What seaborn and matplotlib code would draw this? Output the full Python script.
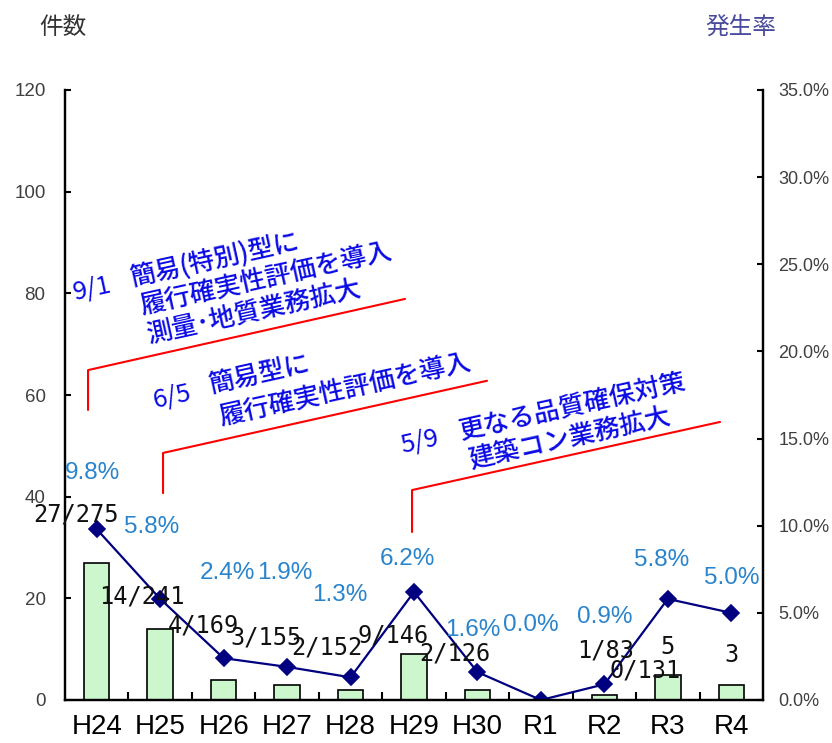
import matplotlib
matplotlib.use('Agg')
import matplotlib.pyplot as plt
import seaborn as sns
import pandas as pd
from matplotlib.ticker import FixedLocator, FuncFormatter

# ---- data ----
years = ['H24', 'H25', 'H26', 'H27', 'H28', 'H29', 'H30', 'R1', 'R2', 'R3', 'R4']
counts = [27, 14, 4, 3, 2, 9, 2, 0, 1, 5, 3]
rates = [9.8, 5.8, 2.4, 1.9, 1.3, 6.2, 1.6, 0.0, 0.9, 5.8, 5.0]
count_labels = ['27/275', '14/241', '4/169', '3/155', '2/152', '9/146',
                '2/126', '0/131', '1/83', '5', '3']
rate_labels = ['9.8%', '5.8%', '2.4%', '1.9%', '1.3%', '6.2%',
               '1.6%', '0.0%', '0.9%', '5.8%', '5.0%']
left_ticks = [0, 20, 40, 60, 80, 100, 120]
right_ticks = [0, 5, 10, 15, 20, 25, 30, 35]
event_dates = ['9/1', '6/5', '5/9']
event_texts = [['簡易(特別)型に', '履行確実性評価を導入', '測量･地質業務拡大'],
               ['簡易型に', '履行確実性評価を導入'],
               ['更なる品質確保対策', '建築コン業務拡大']]
left_title = '件数'
right_title = '発生率'

# ---- label placement (pixel offsets from the markers) ----
count_off = [(-21, 15), (-18, 2), (-20, 33), (-21, 29), (-24, 30), (-21, -44),
             (-23, 19), (104, 30), (1, 34), (0, -48), (0, -42)]
rate_off = [(-4, 56), (-9, 72), (4, 85), (-2, 94), (-11, 82), (-7, 33),
            (-5, 42), (-10, 75), (0, 67), (-6, 39), (0, 35)]

# annotation geometry (left-axis data coordinates)
bracket_x = [[-0.137, -0.137, 4.859], [1.045, 1.045, 6.151], [4.969, 4.969, 9.823]]
bracket_y = [[57.05, 64.9, 78.9], [40.7, 48.6, 62.8], [33.05, 41.3, 54.7]]
date_pos = [(-0.342, 78.7), (0.918, 57.45), (4.811, 48.6)]
text_pos = [[(0.556, 80.66), (0.714, 75.35), (0.824, 69.45)],
            [(1.801, 59.6), (1.959, 53.7)],
            [(5.741, 50.56), (5.899, 45.25)]]

sns.set_theme(style='white')
plt.rcParams['font.family'] = ['Liberation Sans', 'Noto Sans CJK JP', 'DejaVu Sans']
CJK = ['Noto Sans CJK JP', 'DejaVu Sans']

df = pd.DataFrame({'year': years, 'count': counts, 'rate': rates})

fig = plt.figure(figsize=(8.32, 7.43), dpi=100)
ax = fig.add_axes([65 / 832, 1 - 700 / 743, (763 - 65) / 832, (700 - 90) / 743])
ax2 = ax.twinx()

sns.barplot(data=df, x='year', y='count', order=years, ax=ax, color='#ccf7cc',
            width=0.4, edgecolor='black', linewidth=1.2, saturation=1)
sns.pointplot(data=df, x='year', y='rate', order=years, ax=ax2, color='#000080',
              marker='D', markersize=8, linewidth=1.6, errorbar=None)

for a in (ax, ax2):
    a.set_xlim(-0.5, len(years) - 0.5)
    a.set_xlabel('')
    a.set_ylabel('')
    a.grid(False)

ax.set_ylim(0, 120)
ax2.set_ylim(0, 35)
ax.yaxis.set_major_locator(FixedLocator(left_ticks))
ax2.yaxis.set_major_locator(FixedLocator(right_ticks))
ax2.yaxis.set_major_formatter(FuncFormatter(lambda v, p: f'{v:.1f}%'))

for a in (ax, ax2):
    for s in a.spines.values():
        s.set_color('black')
        s.set_linewidth(1.6)
    a.spines['top'].set_visible(False)

ax.tick_params(axis='y', direction='in', length=4, width=1.5, color='black',
               labelsize=13.5, labelcolor='#404040', pad=14, left=True)
ax2.tick_params(axis='y', direction='in', length=4, width=1.5, color='black',
                labelsize=13, labelcolor='#404040', pad=11, right=True)
ax.tick_params(axis='x', which='major', length=0, labelsize=20,
               labelcolor='black', pad=10)
ax.set_xticks([i + 0.5 for i in range(len(years) - 1)], minor=True)
ax.tick_params(axis='x', which='minor', direction='in', length=6, width=1.5,
               color='black', bottom=True)
ax2.tick_params(axis='x', length=0)

# value labels
for i, (lab, off) in enumerate(zip(count_labels, count_off)):
    ax2.annotate(lab, (i, rates[i]), xytext=off, textcoords='offset pixels',
                 ha='center', va='center', fontsize=17, color='#111111',
                 family=['DejaVu Sans Mono'], annotation_clip=False, zorder=5)
for i, (lab, off) in enumerate(zip(rate_labels, rate_off)):
    ax2.annotate(lab, (i, rates[i]), xytext=off, textcoords='offset pixels',
                 ha='center', va='center', fontsize=17.5, color='#2a84cc',
                 annotation_clip=False, zorder=5)

# event annotations
ANG = 12.5
for bx, by in zip(bracket_x, bracket_y):
    ax.plot(bx, by, color='#ff0000', lw=1.5, clip_on=False, zorder=4)
for d, dp, lines, tps in zip(event_dates, date_pos, event_texts, text_pos):
    ax.text(dp[0], dp[1], d, rotation=ANG, rotation_mode='anchor', ha='left',
            va='baseline', fontsize=18.5, color='#0a0ae6', family=CJK, zorder=6)
    for t, tp in zip(lines, tps):
        ax.text(tp[0], tp[1] + 0.6, t, rotation=ANG, rotation_mode='anchor',
                ha='left', va='baseline', fontsize=18.5, color='#0a0ae6',
                family=CJK, fontweight='medium', zorder=6)

fig.text(63 / 832, 1 - 27 / 743, left_title, ha='center', va='center',
         fontsize=17, color='#333333', family=CJK)
fig.text(741 / 832, 1 - 27 / 743, right_title, ha='center', va='center',
         fontsize=17, color='#4a4a9c', family=CJK)

fig.savefig('out.png', dpi=100)
